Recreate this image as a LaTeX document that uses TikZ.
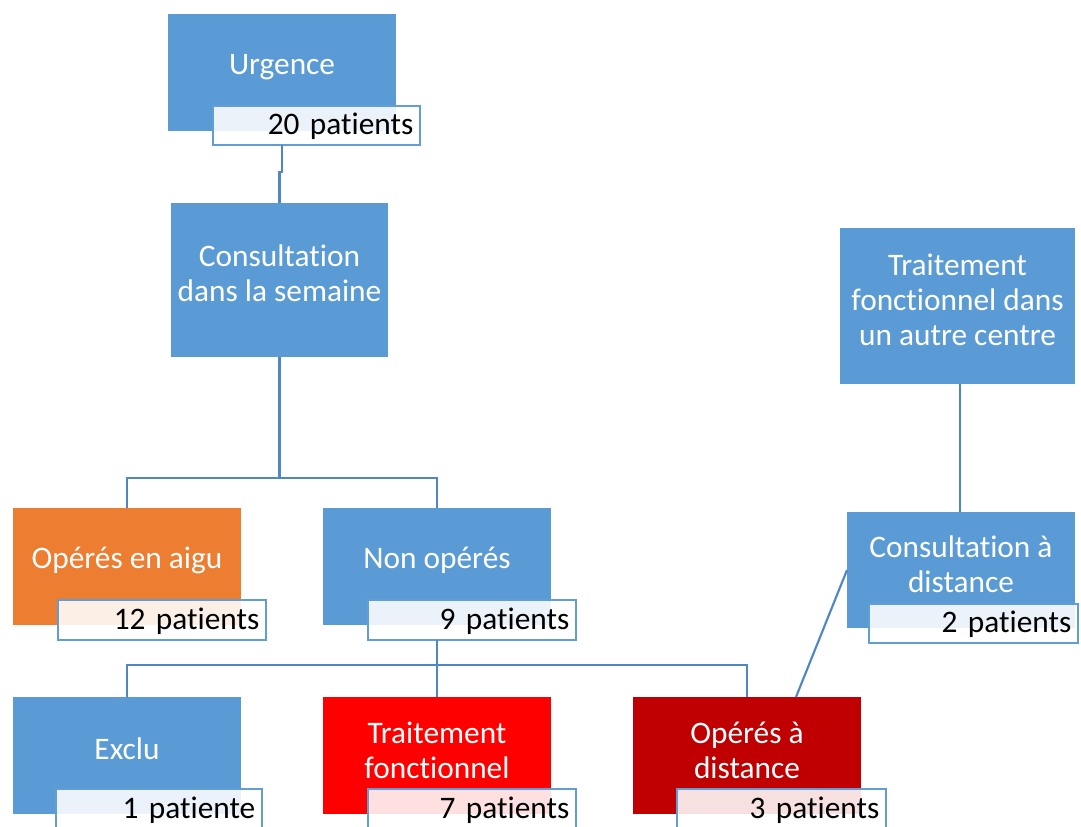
\documentclass[tikz,border=0pt]{standalone}
\usepackage{fontspec}
\setmainfont{Carlito}[Ligatures=NoCommon]
\usetikzlibrary{calc}
\definecolor{cblue}{HTML}{5B9BD5}
\definecolor{corange}{HTML}{ED7D31}
\definecolor{cred}{HTML}{FF0000}
\definecolor{cdark}{HTML}{C00000}
\definecolor{lnc}{RGB}{79,134,198}
\definecolor{lblc}{RGB}{98,158,214}
\tikzset{
  box/.style={draw=none, inner sep=0pt, outer sep=0pt, minimum width=171pt, minimum height=87.75pt},
  lbl/.style={draw=lblc, line width=1.4pt, fill=white, fill opacity=0.88, text opacity=1, text=black,
    inner xsep=5pt, inner ysep=0pt, outer sep=0pt, minimum height=29.5pt, align=right,
    text height=18pt, text depth=4.2pt,
    font=\fontsize{23.5}{26.25}\selectfont},
  txt/.style={text=white, align=center, inner sep=0pt, font=\fontsize{23.5}{26.25}\selectfont},
  conn/.style={draw=lnc, line width=1.6pt}
}
\begin{document}
\begin{tikzpicture}[x=0.75pt, y=-0.75pt]
\useasboundingbox (0,0) rectangle (1081,826);
\clip (0,0) rectangle (1081,826);
% main boxes
\node[box, fill=cblue] (urg) at (282,72) {};
\node[txt] (urgT) at (282,67) {Urgence};
\node[lbl, text width=145.25pt] (l20) at (316.5,125.5) {20 patients};

\node[box, fill=cblue, minimum width=162.75pt, minimum height=115.5pt] (cons) at (279.5,280) {};
\node[txt] (consT) at (279.5,273.5) {Consultation\\dans la semaine};

\node[box, fill=corange] (aigu) at (127,566.5) {};
\node[txt] (aiguT) at (127,560) {Opérés en aigu};
\node[lbl, text width=146pt] (l12) at (162,620) {12 patients};

\node[box, fill=cblue] (nonop) at (437,566.5) {};
\node[txt] (nonopT) at (437,560) {Non opérés};
\node[lbl, text width=146pt] (l9) at (472,620) {9 patients};

\node[box, fill=cblue] (exclu) at (127,755.5) {};
\node[txt] (excluT) at (127,749) {Exclu};
\node[lbl, text width=144.5pt] (l1) at (159,809) {1 patiente};

\node[box, fill=cred] (trait) at (437,755.5) {};
\node[txt] (traitT) at (437,750.5) {Traitement\\fonctionnel};
\node[lbl, text width=146pt] (l7) at (472,809) {7 patients};

\node[box, fill=cdark] (opdist) at (747,755.5) {};
\node[txt] (opdistT) at (747,750.5) {Opérés à\\distance};
\node[lbl, text width=146.75pt] (l3) at (781.5,809) {3 patients};

\node[box, fill=cblue, minimum width=176.25pt, minimum height=117pt] (autre) at (957.5,306) {};
\node[txt] (autreT) at (957.5,300) {Traitement\\fonctionnel dans\\un autre centre};

\node[box, fill=cblue, minimum height=87pt] (consd) at (961,570) {};
\node[txt] (consdT) at (961,564.5) {Consultation à\\distance};
\node[lbl, text width=146.75pt] (l2) at (973.5,623.5) {2 patients};

% connectors
\draw[conn] (urg.south |- l20.south) -- ++(0,27) -| (cons.north);
\draw[conn] (cons.south) -- ++(0,121) coordinate (j1);
\draw[conn] (j1) -| (aigu.north);
\draw[conn] (j1) -| (nonop.north);
\draw[conn] (nonop.south |- l9.south) -- ++(0,25) coordinate (j2);
\draw[conn] (j2) -| (exclu.north);
\draw[conn] (j2) -| (trait.north);
\draw[conn] (j2) -| (opdist.north);
\draw[conn] ($(autre.south)+(2.5,0)$) -- ($(autre.south |- consd.north)+(2.5,0)$);
\draw[conn] (consd.west) -- ($(opdist.north)+(49,0)$);
\end{tikzpicture}
\end{document}
